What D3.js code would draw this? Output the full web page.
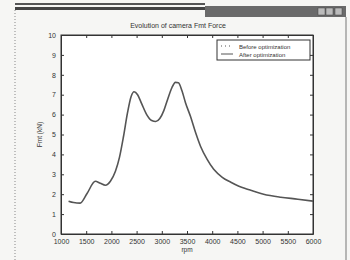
<!DOCTYPE html>
<html lang="en">
<head>
<meta charset="utf-8">
<title>Fmt force</title>
<script src="https://cdn.jsdelivr.net/npm/d3@7/dist/d3.min.js"></script>
<style>
  body { margin: 0; background: #f6f6f4; }
  svg text { font-family: "Liberation Sans", Arial, sans-serif; fill: #333; }
</style>
</head>
<body>
<div id="chart"></div>
<script>

const rpm   = [1150, 1250, 1380, 1520, 1680, 1780, 1880, 1980, 2080, 2160, 2240, 2320, 2390, 2450, 2520, 2600, 2700, 2800, 2880, 2960, 3040, 3120, 3200, 3270, 3330, 3400, 3470, 3570, 3670, 3770, 3900, 4030, 4200, 4370, 4530, 4700, 5020, 5360, 5700, 6000];
const force = [1.65, 1.58, 1.55, 2.05, 2.65, 2.55, 2.45, 2.65, 3.15, 3.85, 4.9, 6.1, 6.9, 7.15, 7.0, 6.55, 6.0, 5.7, 5.65, 5.8, 6.2, 6.8, 7.35, 7.62, 7.6, 7.2, 6.6, 5.9, 5.1, 4.4, 3.75, 3.25, 2.85, 2.6, 2.4, 2.25, 2.0, 1.85, 1.75, 1.65];
const xTicks = [1000, 1500, 2000, 2500, 3000, 3500, 4000, 4500, 5000, 5500, 6000];
const yTicks = [0, 1, 2, 3, 4, 5, 6, 7, 8, 9, 10];
const legendItems = ["Before optimization", "After optimization"];

const width = 350, height = 260;
const margin = {top: 35, right: 37, bottom: 26, left: 61};

const svg = d3.select("#chart").append("svg")
  .attr("width", width)
  .attr("height", height);

// window frame (scanned screenshot look)
svg.append("rect").attr("x", 15).attr("y", 3).attr("width", 190).attr("height", 2).style("fill", "#555");
svg.append("rect").attr("x", 15).attr("y", 7).attr("width", 190).attr("height", 3).style("fill", "#444");
svg.append("rect").attr("x", 205).attr("y", 6).attr("width", 141).attr("height", 11).style("fill", "#6a6a6a");
svg.selectAll(".btn")
  .data([318, 326, 335])
  .join("rect")
  .attr("class", "btn")
  .attr("x", d => d).attr("y", 8).attr("width", 7).attr("height", 7)
  .style("fill", "#bbb").style("stroke", "#444").style("stroke-width", 0.5);
svg.append("line").attr("x1", 15).attr("x2", 15).attr("y1", 10).attr("y2", 260)
  .style("stroke", "#888").style("stroke-dasharray", "1,2");
svg.append("line").attr("x1", 346).attr("x2", 346).attr("y1", 17).attr("y2", 260)
  .style("stroke", "#777");

const x = d3.scaleLinear().domain([1000, 6000]).range([margin.left, width - margin.right]);
const y = d3.scaleLinear().domain([0, 10]).range([height - margin.bottom, margin.top]);

svg.append("rect")
  .attr("x", x(1000)).attr("y", y(10))
  .attr("width", x(6000) - x(1000)).attr("height", y(0) - y(10))
  .style("fill", "#fff").style("stroke", "#333").style("stroke-width", 1);

svg.append("g")
  .attr("transform", `translate(0,${y(0)})`)
  .call(d3.axisBottom(x).tickValues(xTicks).tickFormat(d3.format("d")).tickSizeInner(-3).tickSizeOuter(0).tickPadding(5));
svg.append("g")
  .attr("transform", `translate(${x(1000)},0)`)
  .call(d3.axisLeft(y).tickValues(yTicks).tickSizeInner(-3).tickSizeOuter(0).tickPadding(5));
svg.append("g")
  .attr("transform", `translate(0,${y(10)})`)
  .call(d3.axisTop(x).tickValues(xTicks).tickSizeInner(-3).tickSizeOuter(0).tickFormat(""));
svg.append("g")
  .attr("transform", `translate(${x(6000)},0)`)
  .call(d3.axisRight(y).tickValues(yTicks).tickSizeInner(-3).tickSizeOuter(0).tickFormat(""));

svg.selectAll(".domain").style("stroke", "#333");
svg.selectAll(".tick line").style("stroke", "#333");
svg.selectAll(".tick text").style("font-size", "7px").style("fill", "#333");

svg.append("text")
  .attr("x", 178).attr("y", 28)
  .attr("text-anchor", "middle")
  .style("font-size", "7px")
  .text("Evolution of camera Fmt Force");

svg.append("text")
  .attr("x", x(3500)).attr("y", 252)
  .attr("text-anchor", "middle")
  .style("font-size", "6.5px")
  .text("rpm");

svg.append("text")
  .attr("transform", `translate(42,${y(5)}) rotate(-90)`)
  .attr("text-anchor", "middle")
  .style("font-size", "6.5px")
  .text("Fmt (kN)");

const line = d3.line()
  .x((d, i) => x(rpm[i]))
  .y(d => y(d))
  .curve(d3.curveMonotoneX);

svg.append("path")
  .datum(force)
  .attr("d", line)
  .style("fill", "none")
  .style("stroke", "#555")
  .style("stroke-width", 1.6);

// legend
const lg = svg.append("g").attr("transform", "translate(217,40)");
lg.append("rect").attr("width", 93).attr("height", 20)
  .style("fill", "#fff").style("stroke", "#333");
lg.selectAll("line")
  .data(legendItems)
  .join("line")
  .attr("x1", 4).attr("x2", 16)
  .attr("y1", (d, i) => 6 + i * 8).attr("y2", (d, i) => 6 + i * 8)
  .style("stroke", "#555")
  .style("stroke-width", 1)
  .style("stroke-dasharray", (d, i) => i === 0 ? "1,3" : null);
lg.selectAll("text")
  .data(legendItems)
  .join("text")
  .attr("x", 22)
  .attr("y", (d, i) => 8.5 + i * 8)
  .style("font-size", "6px")
  .text(d => d);

</script>
</body>
</html>
